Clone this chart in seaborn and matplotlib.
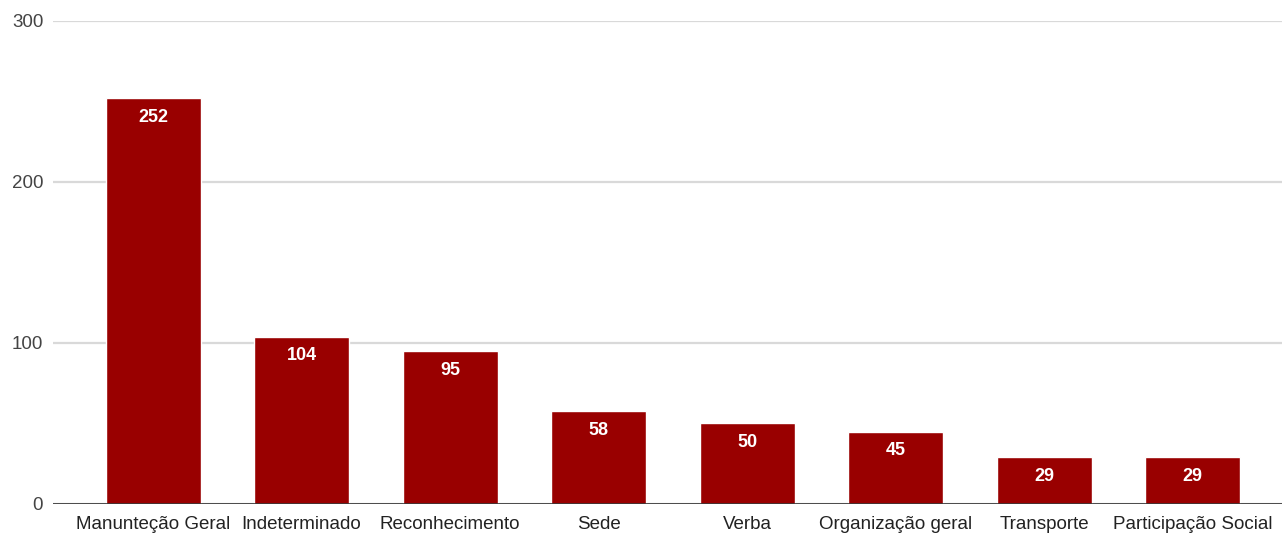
import pandas as pd
import numpy as np
import seaborn as sns
import matplotlib.pyplot as plt

categories = ["Manunteção Geral", "Indeterminado", "Reconhecimento", "Sede",
              "Verba", "Organização geral", "Transporte", "Participação Social"]
values = [252, 104, 95, 58, 50, 45, 29, 29]
yticks = [0, 100, 200, 300]

df = pd.DataFrame({"categoria": categories, "total": values})

sns.set_style("white")
plt.rcParams['font.family'] = ['Liberation Sans', 'DejaVu Sans']

fig = plt.figure(figsize=(12.82, 5.34), dpi=100)
ax = fig.add_axes([0.0413, 0.0562, 0.9587, 0.9045])

sns.barplot(data=df, x="categoria", y="total", color="#990000", saturation=1,
            width=0.64, ax=ax, zorder=3)

for i, v in enumerate(values):
    ax.annotate(str(v), (i, v), xytext=(0, -14), textcoords="offset points",
                ha="center", va="center", color="white", fontsize=13,
                fontweight="bold", zorder=4)

ax.set_xlim(-0.674, 7.6)
ax.set_ylim(0, 300)
ax.set_yticks(yticks)
ax.grid(axis="y", color="#d9d9d9", linewidth=1.6, zorder=0)
ax.axhline(0, color="#333333", linewidth=1.2, zorder=5)
for s in ax.spines.values():
    s.set_visible(False)
ax.set_xlabel("")
ax.set_ylabel("")
ax.tick_params(axis="x", length=0, pad=9, labelsize=13.5, labelcolor="#222222")
ax.tick_params(axis="y", length=0, pad=7, labelsize=13.5, labelcolor="#444444")

fig.savefig("out.png", dpi=100)
